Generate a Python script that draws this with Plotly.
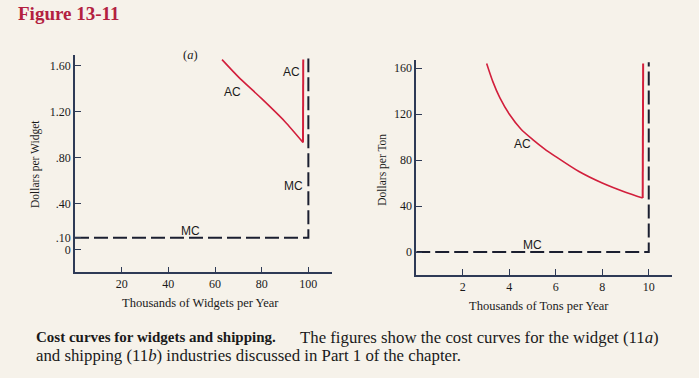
import plotly.graph_objects as go

# ---------------- data ----------------
# Panel (a): widgets
a_ac_x = [63, 70, 80, 90, 97.7, 97.8]
a_ac_y = [1.65, 1.50, 1.31, 1.11, 0.93, 1.65]
a_mc_x = [0, 100, 100]
a_mc_y = [0.10, 0.10, 1.66]
a_xticks = [20, 40, 60, 80, 100]
a_yticks = [0, 0.10, 0.40, 0.80, 1.20, 1.60]
a_yticklabels = ["0", ".10", ".40", ".80", "1.20", "1.60"]

# Panel (b): shipping
b_ac_x = [3.03, 3.3, 3.6, 4.0, 4.5, 5.0, 5.5, 6.0, 7.0, 8.0, 9.0, 9.74]
b_ac_y = [164, 148, 134, 120, 107, 98, 90, 83, 70, 60, 52, 47]
b_acv_x = [9.74, 9.76]
b_acv_y = [47, 164]
b_mc_x = [0, 10, 10]
b_mc_y = [0, 0, 165]
b_xticks = [2, 4, 6, 8, 10]
b_yticks = [0, 40, 80, 120, 160]

W, H = 699, 378
BG = "#f6f2ea"
RED = "#d21f3c"
DARK = "#1b1f30"
AXIS = "#2e3a56"
SERIF = "Liberation Serif"
SANS = "Liberation Sans"

def px(x):
    return x / W

def py(y):
    return 1 - y / H

fig = go.Figure()

fig.add_trace(go.Scatter(x=a_ac_x[:-1], y=a_ac_y[:-1], mode="lines",
                         line=dict(color=RED, width=1.6, shape="spline", smoothing=0.6),
                         xaxis="x", yaxis="y", showlegend=False))
fig.add_trace(go.Scatter(x=a_ac_x[-2:], y=a_ac_y[-2:], mode="lines",
                         line=dict(color=RED, width=2),
                         xaxis="x", yaxis="y", showlegend=False))
fig.add_trace(go.Scatter(x=a_mc_x, y=a_mc_y, mode="lines",
                         line=dict(color=DARK, width=2, dash="14px,5px"),
                         xaxis="x", yaxis="y", showlegend=False))

fig.add_trace(go.Scatter(x=b_ac_x, y=b_ac_y, mode="lines",
                         line=dict(color=RED, width=1.6, shape="spline", smoothing=0.8),
                         xaxis="x2", yaxis="y2", showlegend=False))
fig.add_trace(go.Scatter(x=b_acv_x, y=b_acv_y, mode="lines",
                         line=dict(color=RED, width=2),
                         xaxis="x2", yaxis="y2", showlegend=False))
fig.add_trace(go.Scatter(x=b_mc_x, y=b_mc_y, mode="lines",
                         line=dict(color=DARK, width=2, dash="14px,5px"),
                         xaxis="x2", yaxis="y2", showlegend=False))

tickfont = dict(family=SERIF, size=12, color="#1a1a1a")
common = dict(showline=True, linecolor=AXIS, linewidth=1.5, ticks="inside",
              ticklen=6, tickcolor=AXIS, tickwidth=1.2, showgrid=False,
              zeroline=False, tickfont=tickfont, fixedrange=True)

fig.update_layout(
    width=W, height=H,
    margin=dict(l=0, r=0, t=0, b=0, autoexpand=False),
    paper_bgcolor=BG, plot_bgcolor="rgba(0,0,0,0)",
    xaxis=dict(common, domain=[px(75), px(331.7)], range=[0, 110],
               tickvals=a_xticks, anchor="y"),
    yaxis=dict(common, domain=[py(272.3), py(55)], range=[-0.2, 1.69],
               tickvals=a_yticks, ticktext=a_yticklabels, anchor="x"),
    xaxis2=dict(common, domain=[px(416.2), px(672)], range=[0, 11],
                tickvals=b_xticks, anchor="y2"),
    yaxis2=dict(common, domain=[py(275), py(60)], range=[-20, 167],
                tickvals=b_yticks, anchor="x2"),
)

lab = dict(family=SANS, size=12, color="#1a1a1a")
ann = []
def a(text, x, y, xref, yref, font, xanchor="center", yanchor="middle", **kw):
    ann.append(dict(text=text, x=x, y=y, xref=xref, yref=yref, showarrow=False,
                    font=font, xanchor=xanchor, yanchor=yanchor, **kw))

# in-plot labels
a("(<i>a</i>)", 49.6, 1.69, "x", "y", dict(family=SERIF, size=12.5, color="#1a1a1a"))
a("AC", 92.9, 1.54, "x", "y", lab)
a("AC", 67.4, 1.365, "x", "y", lab)
a("MC", 93.6, 0.553, "x", "y", lab)
a("MC", 49.3, 0.162, "x", "y", lab)
a("(<i>b</i>)", 5.07, 169.8, "x2", "y2", dict(family=SERIF, size=12.5, color="#1a1a1a"))
a("AC", 4.55, 93.9, "x2", "y2", lab)
a("MC", 5.01, 6.1, "x2", "y2", lab)

tf = dict(family=SERIF, size=12.5, color="#1a1a1a")
tfy = dict(family=SERIF, size=11.5, color="#1a1a1a")
a("Dollars per Widget", px(35), py(164), "paper", "paper", tfy, textangle=-90)
a("Dollars per Ton", px(381.7), py(170), "paper", "paper", tfy, textangle=-90)
a("Thousands of Widgets per Year", px(200.7), py(303.3), "paper", "paper", tf)
a("Thousands of Tons per Year", px(539.3), py(305.7), "paper", "paper", tf)

a("<b>Figure 13-11</b>", px(16), py(13), "paper", "paper",
  dict(family=SERIF, size=19, color="#b3203f"), xanchor="left")

capb = dict(family=SERIF, size=15, color="#1a1a1a")
capr = dict(family=SERIF, size=16.8, color="#1a1a1a")
a("<b>Cost curves for widgets and shipping.</b>",
  px(34), py(337), "paper", "paper", capb, xanchor="left")
a("The figures show the cost curves for the widget (11<i>a</i>)",
  px(298), py(337), "paper", "paper", capr, xanchor="left")
a("and shipping (11<i>b</i>) industries discussed in Part 1 of the chapter.",
  px(34), py(355), "paper", "paper", capr, xanchor="left")

fig.update_layout(annotations=ann)
fig.write_html(
    "out.html",
    config={"displayModeBar": False},
    post_script="document.body.style.margin='0';document.body.style.background='%s';" % BG,
)
